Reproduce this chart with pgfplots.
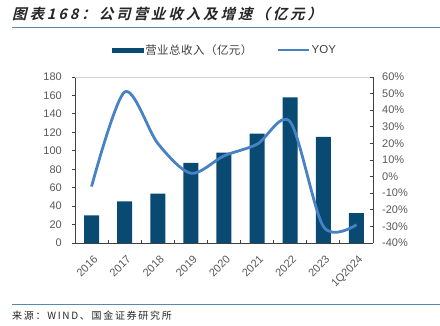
\documentclass[border=0pt]{standalone}
\usepackage{pgfplots}
\pgfplotsset{compat=1.18}
\usepackage{fontspec}
\setmainfont{Liberation Sans}
\newfontfamily\cjk[LetterSpace=4]{Noto Sans CJK SC}
\newfontfamily\cjktitle[FakeSlant=0.25,LetterSpace=20]{Noto Sans CJK SC Bold}
\newfontfamily\cjkfoot[LetterSpace=17]{Noto Sans CJK SC}
\definecolor{barc}{RGB}{8,74,114}
\definecolor{linec}{RGB}{70,130,196}
\definecolor{rulec}{RGB}{90,135,170}
\definecolor{tickc}{RGB}{89,89,89}
\definecolor{axc}{RGB}{64,64,64}
\begin{document}
\begin{tikzpicture}
\path[use as bounding box] (0pt,0pt) rectangle (440pt,326pt);
\node[anchor=west,inner sep=0pt,text=black!85] at (12pt,312pt) {\fontsize{14.5}{16}\cjktitle 图表168：公司营业收入及增速（亿元）};
\draw[rulec,line width=1.8pt] (12pt,298.5pt) -- (440pt,298.5pt);
\draw[rulec,line width=1.8pt] (12pt,21.5pt) -- (440pt,21.5pt);
\node[anchor=west,inner sep=0pt,text=black!85] at (12pt,10pt) {\fontsize{10}{12}\cjkfoot 来源：WIND、国金证券研究所};
\begin{axis}[
  at={(75pt,83pt)}, anchor=south west, scale only axis,
  width=298pt, height=166pt,
  xmin=-0.5, xmax=8.5, ymin=0, ymax=180,
  ytick={0,20,...,180},
  axis x line*=bottom, axis y line*=left,
  axis line style={axc, line width=0.8pt},
  xtick={0,...,8},
  xticklabels={2016,2017,2018,2019,2020,2021,2022,2023,1Q2024},
  minor xtick={0.5,1.5,...,7.5},
  major x tick style={draw=none},
  minor x tick style={axc, line width=0.8pt, yshift=3pt},
  minor tick length=3pt,
  major tick length=3pt,
  tick align=outside,
  ytick style={axc, line width=0.8pt},
  tick label style={font=\fontsize{11}{12}\selectfont, text=tickc},
  x tick label style={rotate=45, anchor=north east, inner sep=1pt, yshift=-6pt, xshift=-4pt},
  y tick label style={inner sep=2pt, xshift=-8pt},
  /pgf/number format/assume math mode=true,
]
\draw[gray!35, line width=0.6pt] (rel axis cs:0,1) -- (rel axis cs:1,1);
\addplot[ybar, bar width=15pt, fill=barc, draw=none] coordinates {
(0,30) (1,45) (2,53.5) (3,87) (4,98) (5,118.5) (6,158) (7,115) (8,32.5)};
\end{axis}
\begin{axis}[
  at={(75pt,83pt)}, anchor=south west, scale only axis,
  width=298pt, height=166pt,
  xmin=-0.5, xmax=8.5, ymin=-40, ymax=60,
  ytick={-40,-30,...,60},
  yticklabel={\pgfmathprintnumber{\tick}\%},
  axis x line=none, axis y line*=right,
  axis line style={axc, line width=0.8pt},
  tick align=inside, major tick length=3pt,
  ytick style={axc, line width=0.8pt},
  tick label style={font=\fontsize{11}{12}\selectfont, text=tickc},
  y tick label style={inner sep=2pt, xshift=7pt},
  /pgf/number format/assume math mode=true,
  legend style={at={(0.503,1.163)}, anchor=center, draw=none, fill=none,
    legend columns=2, font=\fontsize{11.5}{12}\selectfont, text=axc,
    /tikz/every even column/.append style={column sep=22pt},
    inner sep=0pt},
]
\addlegendimage{legend image code/.code={\fill[barc] (0pt,-2pt) rectangle (31pt,2pt);}}
\addlegendentry{\cjk 营业总收入（亿元）}
\addplot[linec, line width=2.8pt, smooth, tension=0.5,
  legend image code/.code={\draw[linec,line width=2.2pt] (0pt,0pt) -- (31pt,0pt);}] coordinates {
(0,-6) (1,51) (2,20) (3,2) (4,12.5) (5,19.5) (6,33) (7,-30) (8,-29)};
\addlegendentry{YOY}
\end{axis}
\end{tikzpicture}
\end{document}
